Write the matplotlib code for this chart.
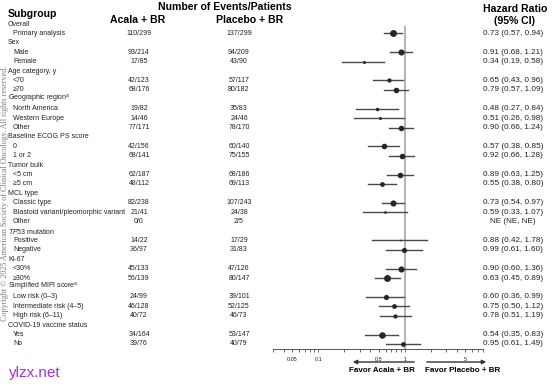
import numpy as np
import matplotlib
matplotlib.use("Agg")
import matplotlib.pyplot as plt
from matplotlib import transforms

plt.rcParams['font.family'] = ['Liberation Sans', 'DejaVu Sans']
plt.rcParams['mathtext.fontset'] = 'custom'
plt.rcParams['mathtext.rm'] = 'Liberation Sans'
plt.rcParams['mathtext.it'] = 'Liberation Sans:italic'

nan = np.nan

# subgroup rows (top to bottom)
labels = ["Overall", "Primary analysis", "Sex", "Male", "Female",
          "Age category, y", "<70", "\u226570",
          "Geographic region$^\\mathregular{a}$", "North America", "Western Europe", "Other",
          "Baseline ECOG PS score", "0", "1 or 2",
          "Tumor bulk", "<5 cm", "\u22655 cm",
          "MCL type", "Classic type", "Blastoid variant/pleomorphic variant", "Other",
          "$\\mathit{TP53}$ mutation", "Positive", "Negative",
          "Ki-67", "<30%", "\u226530%",
          "Simplified MIPI score$^\\mathregular{a}$", "Low risk (0\u20133)",
          "Intermediate risk (4\u20135)", "High risk (6\u201311)",
          "COVID-19 vaccine status", "Yes", "No"]
group_rows = [0, 2, 5, 8, 12, 15, 18, 22, 25, 28, 32]

acala_ev = ["", "110/299", "", "93/214", "17/85", "", "42/123", "68/176", "",
            "19/82", "14/46", "77/171", "", "42/156", "68/141", "", "62/187", "48/112",
            "", "82/238", "21/41", "0/0", "", "14/22", "36/97", "", "45/133", "56/139",
            "", "24/99", "46/128", "40/72", "", "34/164", "39/76"]
placebo_ev = ["", "137/299", "", "94/209", "43/90", "", "57/117", "80/182", "",
              "35/83", "24/46", "78/170", "", "60/140", "75/155", "", "68/186", "69/113",
              "", "107/243", "24/38", "2/5", "", "17/29", "31/83", "", "47/126", "80/147",
              "", "39/101", "52/125", "46/73", "", "53/147", "40/79"]

hr = [nan, 0.73, nan, 0.91, 0.34, nan, 0.65, 0.79, nan, 0.48, 0.51, 0.90, nan,
      0.57, 0.92, nan, 0.89, 0.55, nan, 0.73, 0.59, nan, nan, 0.88, 0.99, nan,
      0.90, 0.63, nan, 0.60, 0.75, 0.78, nan, 0.54, 0.95]
ci_lo = [nan, 0.57, nan, 0.68, 0.19, nan, 0.43, 0.57, nan, 0.27, 0.26, 0.66, nan,
         0.38, 0.66, nan, 0.63, 0.38, nan, 0.54, 0.33, nan, nan, 0.42, 0.61, nan,
         0.60, 0.45, nan, 0.36, 0.50, 0.51, nan, 0.35, 0.61]
ci_hi = [nan, 0.94, nan, 1.21, 0.58, nan, 0.96, 1.09, nan, 0.84, 0.98, 1.24, nan,
         0.85, 1.28, nan, 1.25, 0.80, nan, 0.97, 1.07, nan, nan, 1.78, 1.60, nan,
         1.36, 0.89, nan, 0.99, 1.12, 1.19, nan, 0.83, 1.49]

major_ticks = [0.05, 0.1, 0.5, 1, 5]
minor_ticks = [0.03, 0.04, 0.06, 0.07, 0.08, 0.09, 0.2, 0.3, 0.4, 0.6, 0.7, 0.8, 0.9,
               2, 3, 4, 6, 7, 8]

# marker diameter in pixels (style)
dot_px = [0, 5.3, 0, 4.7, 2.3, 0, 3.3, 4.3, 0, 2.7, 2.3, 4.3, 0, 4.3, 4.3, 0, 4.3, 3.7,
          0, 4.7, 2.0, 0, 0, 1.3, 4.0, 0, 4.7, 5.3, 0, 4.0, 3.7, 3.3, 0, 5.0, 3.7]

W, H = 554, 387
fig = plt.figure(figsize=(W / 100, H / 100), dpi=100)

row0, step = 24, 9.41
top_px, bot_px = 26, 349
ax = fig.add_axes([273 / W, 1 - bot_px / H, (483 - 273) / W, (bot_px - top_px) / H])
ax.set_xscale('log')
ax.set_xlim(0.03, 8)
ax.set_ylim((bot_px - row0) / step, (top_px - row0) / step)

ax.axvline(1, color='#b5b5b5', lw=1.5, zorder=0)
for i in range(len(labels)):
    if np.isnan(hr[i]):
        continue
    ax.plot([ci_lo[i], ci_hi[i]], [i, i], color='#4a4a4a', lw=1.0, zorder=2)
    ax.plot(hr[i], i, 'o', ms=dot_px[i] * 0.72 * 1.3, color='#262626', mec='none', zorder=3)

for s in ['top', 'right', 'left']:
    ax.spines[s].set_visible(False)
ax.spines['bottom'].set_color('#555555')
ax.spines['bottom'].set_linewidth(0.7)
ax.set_yticks([])
ax.set_xticks(major_ticks)
ax.set_xticklabels([f"{t:g}" for t in major_ticks])
ax.set_xticks(minor_ticks, minor=True)
ax.xaxis.set_minor_formatter(plt.NullFormatter())
ax.tick_params(axis='x', which='both', length=2.5, width=0.6, color='#555555',
               labelsize=3.9, pad=3, labelcolor='#222222')

# text columns
fs_row = 5.0
tr = transforms.blended_transform_factory(fig.transFigure, ax.transData)
for i, lab in enumerate(labels):
    x = 8 if i in group_rows else 13
    ax.text(x / W, i, lab, transform=tr, ha='left', va='center', fontsize=fs_row,
            color='#222222', clip_on=False)
    if i in group_rows:
        continue
    ax.text(139 / W, i, acala_ev[i], transform=tr, ha='center', va='center',
            fontsize=fs_row, color='#222222', clip_on=False)
    ax.text(239 / W, i, placebo_ev[i], transform=tr, ha='center', va='center',
            fontsize=fs_row, color='#222222', clip_on=False)
    if np.isnan(hr[i]):
        ax.text(513 / W, i, "NE (NE, NE)", transform=tr, ha='center', va='center',
                fontsize=5.9, color='#222222', clip_on=False)
    else:
        ax.text(483 / W, i, f"{hr[i]:.2f} ({ci_lo[i]:.2f}, {ci_hi[i]:.2f})",
                transform=tr, ha='left', va='center', fontsize=5.9, color='#222222',
                clip_on=False)

# headers
def ftext(x, y, s, **kw):
    fig.text(x / W, 1 - y / H, s, **kw)

ftext(8, 14, "Subgroup", ha='left', va='center', fontsize=7.6, fontweight='bold')
ftext(225, 7, "Number of Events/Patients", ha='center', va='center', fontsize=7.6,
      fontweight='bold')
ftext(138, 20, "Acala + BR", ha='center', va='center', fontsize=7.6, fontweight='bold')
ftext(250, 20, "Placebo + BR", ha='center', va='center', fontsize=7.6, fontweight='bold')
ftext(515, 9, "Hazard Ratio", ha='center', va='center', fontsize=7.6, fontweight='bold')
ftext(515, 20.5, "(95% CI)", ha='center', va='center', fontsize=7.6, fontweight='bold')

# favour arrows
ya = H - 362
ax.annotate('', xy=(350, ya), xytext=(417, ya), xycoords='figure pixels',
            textcoords='figure pixels',
            arrowprops=dict(arrowstyle='-|>', color='#333333', lw=1.0, mutation_scale=6))
ax.annotate('', xy=(489, ya), xytext=(424, ya), xycoords='figure pixels',
            textcoords='figure pixels',
            arrowprops=dict(arrowstyle='-|>', color='#333333', lw=1.0, mutation_scale=6))
ftext(382, 371, "Favor Acala + BR", ha='center', va='center', fontsize=5.8,
      fontweight='bold')
ftext(463, 371, "Favor Placebo + BR", ha='center', va='center', fontsize=5.8,
      fontweight='bold')

# watermarks
ftext(5, 193, "Copyright \u00a9 2025 American Society of Clinical Oncology. All rights reserved.",
      ha='center', va='center', rotation=90, fontsize=5.9, color='#7a7a7a',
      family='Liberation Serif')
ftext(9, 373, "ylzx.net", ha='left', va='center', fontsize=11, color='#a72ee6')

fig.savefig('out.png', dpi=100)
